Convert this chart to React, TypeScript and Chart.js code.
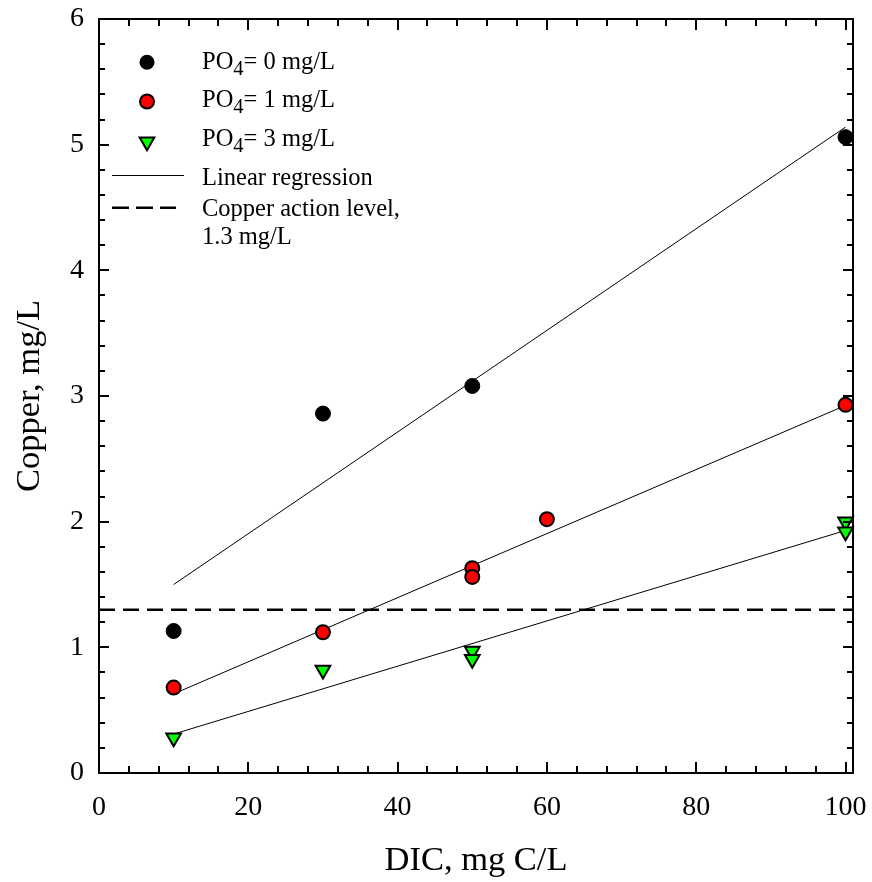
import React, { useEffect, useRef } from 'react';
import { Chart, registerables } from 'chart.js';

Chart.register(...registerables);

const FONT = '"Liberation Serif", "Times New Roman", Times, serif';

// Axis ticks
const xTickValues = [0, 20, 40, 60, 80, 100];
const yTickValues = [0, 1, 2, 3, 4, 5, 6];
const xMinorStep = 4;
const yMinorStep = 0.2;
const xMin = 0;
const xMax = 101;
const yMin = 0;
const yMax = 6;

// PO4 = 0 mg/L
const dic0 = [10, 30, 50, 100];
const cu0 = [1.13, 2.86, 3.08, 5.06];
// PO4 = 1 mg/L
const dic1 = [10, 30, 50, 50, 60, 100];
const cu1 = [0.68, 1.12, 1.63, 1.56, 2.02, 2.93];
// PO4 = 3 mg/L
const dic3 = [10, 30, 50, 50, 100, 100];
const cu3 = [0.28, 0.82, 0.97, 0.905, 2.0, 1.92];

// Linear regressions (endpoints)
const regX = [10, 100];
const reg0 = [1.5, 5.14];
const reg1 = [0.63, 2.925];
const reg3 = [0.31, 1.93];

// Copper action level
const actionLevel = 1.3;

const legendLabels = ['= 0 mg/L', '= 1 mg/L', '= 3 mg/L', 'Linear regression', 'Copper action level,', '1.3 mg/L'];

const pts = (xs: number[], ys: number[]) => xs.map((x, i) => ({ x, y: ys[i] }));

const framePlugin = {
  id: 'frameTicks',
  afterDraw(chart: any) {
    const { ctx, chartArea } = chart;
    const { left, right, top, bottom } = chartArea;
    const xs = chart.scales.x;
    const ys = chart.scales.y;
    ctx.save();
    ctx.strokeStyle = '#000';
    ctx.lineWidth = 2;
    ctx.lineCap = 'butt';
    // ticks
    ctx.beginPath();
    const nx = Math.round((xTickValues[xTickValues.length - 1] - xMin) / xMinorStep);
    for (let i = 0; i <= nx; i++) {
      const v = xMin + i * xMinorStep;
      const major = xTickValues.some((t) => Math.abs(t - v) < 1e-6);
      const len = major ? 11 : 7;
      const px = Math.round(xs.getPixelForValue(v));
      ctx.moveTo(px, bottom);
      ctx.lineTo(px, bottom - len);
      ctx.moveTo(px, top);
      ctx.lineTo(px, top + len);
    }
    const ny = Math.round((yMax - yMin) / yMinorStep);
    for (let i = 0; i <= ny; i++) {
      const v = yMin + i * yMinorStep;
      const major = yTickValues.some((t) => Math.abs(t - v) < 1e-6);
      const len = major ? 10 : 6;
      const py = Math.round(ys.getPixelForValue(v));
      ctx.moveTo(left, py);
      ctx.lineTo(left + len, py);
      ctx.moveTo(right, py);
      ctx.lineTo(right - len, py);
    }
    ctx.stroke();
    // frame
    ctx.beginPath();
    ctx.rect(left, top, right - left, bottom - top);
    ctx.stroke();
    ctx.restore();

    // Legend
    ctx.save();
    const mx = 147;
    const tx = 202;
    const big = '24.5px ' + FONT;
    const small = '20.5px ' + FONT;
    ctx.fillStyle = '#000';
    ctx.textBaseline = 'alphabetic';
    ctx.textAlign = 'left';
    const rows = [68.5, 107, 145.5];
    // markers
    ctx.lineWidth = 2;
    ctx.strokeStyle = '#000';
    ctx.beginPath();
    ctx.arc(mx, 62.3, 7.5, 0, Math.PI * 2);
    ctx.fillStyle = '#000';
    ctx.fill();
    ctx.beginPath();
    ctx.arc(mx, 101.5, 7, 0, Math.PI * 2);
    ctx.fillStyle = '#ff0000';
    ctx.fill();
    ctx.stroke();
    const tr = 8.5;
    const cy = 141.7;
    ctx.beginPath();
    ctx.moveTo(mx, cy + tr);
    ctx.lineTo(mx + Math.sin((2 * Math.PI) / 3 + Math.PI) * tr, cy - Math.cos((2 * Math.PI) / 3 + Math.PI) * tr);
    ctx.lineTo(mx + Math.sin((4 * Math.PI) / 3 + Math.PI) * tr, cy - Math.cos((4 * Math.PI) / 3 + Math.PI) * tr);
    ctx.closePath();
    ctx.fillStyle = '#00ff00';
    ctx.fill();
    ctx.stroke();
    // texts
    ctx.fillStyle = '#000';
    for (let i = 0; i < 3; i++) {
      ctx.font = big;
      ctx.fillText('PO', tx, rows[i]);
      const w1 = ctx.measureText('PO').width;
      ctx.font = small;
      ctx.fillText('4', tx + w1, rows[i] + 6);
      const w2 = ctx.measureText('4').width;
      ctx.font = big;
      ctx.fillText(legendLabels[i], tx + w1 + w2, rows[i]);
    }
    ctx.font = big;
    ctx.fillText(legendLabels[3], tx, 185);
    ctx.fillText(legendLabels[4], tx, 216);
    ctx.fillText(legendLabels[5], tx, 244);
    // line samples
    ctx.lineWidth = 1;
    ctx.beginPath();
    ctx.moveTo(112, 175.5);
    ctx.lineTo(184, 175.5);
    ctx.stroke();
    ctx.lineWidth = 2.5;
    ctx.setLineDash([17, 7]);
    ctx.beginPath();
    ctx.moveTo(112, 207.7);
    ctx.lineTo(176, 207.7);
    ctx.stroke();
    ctx.restore();
  },
};

export default function App() {
  const ref = useRef<HTMLCanvasElement | null>(null);
  useEffect(() => {
    if (!ref.current) return;
    const chart = new Chart(ref.current, {
      type: 'scatter',
      data: {
        datasets: [
          {
            label: 'PO4 = 0 mg/L',
            data: pts(dic0, cu0),
            pointStyle: 'circle',
            pointRadius: 7.5,
            pointBackgroundColor: '#000',
            pointBorderColor: '#000',
            pointBorderWidth: 1,
            showLine: false,
            clip: false,
          } as any,
          {
            label: 'PO4 = 1 mg/L',
            data: pts(dic1, cu1),
            pointStyle: 'circle',
            pointRadius: 7,
            pointBackgroundColor: '#ff0000',
            pointBorderColor: '#000',
            pointBorderWidth: 2,
            showLine: false,
            clip: false,
          },
          {
            label: 'PO4 = 3 mg/L',
            data: pts(dic3, cu3),
            pointStyle: 'triangle',
            rotation: 180,
            pointRadius: 8.5,
            pointBackgroundColor: '#00ff00',
            pointBorderColor: '#000',
            pointBorderWidth: 2,
            showLine: false,
            clip: false,
          },
          {
            label: 'reg0',
            data: pts(regX, reg0),
            showLine: true,
            borderColor: '#000',
            borderWidth: 1,
            pointRadius: 0,
          },
          {
            label: 'reg1',
            data: pts(regX, reg1),
            showLine: true,
            borderColor: '#000',
            borderWidth: 1,
            pointRadius: 0,
          },
          {
            label: 'reg3',
            data: pts(regX, reg3),
            showLine: true,
            borderColor: '#000',
            borderWidth: 1,
            pointRadius: 0,
          },
          {
            label: 'action',
            data: [
              { x: xMin, y: actionLevel },
              { x: xMax, y: actionLevel },
            ],
            showLine: true,
            borderColor: '#000',
            borderWidth: 2.5,
            borderDash: [16, 8],
            pointRadius: 0,
          },
        ],
      },
      options: {
        responsive: false,
        animation: false,
        devicePixelRatio: 1,
        layout: { padding: { top: 19, right: 19, left: 0, bottom: 0 } },
        plugins: {
          legend: { display: false },
          tooltip: { enabled: false },
        },
        scales: {
          x: {
            type: 'linear',
            min: xMin,
            max: xMax,
            grid: { display: false, drawTicks: false },
            border: { display: false },
            afterBuildTicks: (s: any) => {
              s.ticks = xTickValues.map((v) => ({ value: v }));
            },
            afterFit: (s: any) => {
              s.height = 109;
              s.paddingLeft = 0;
              s.paddingRight = 0;
              s.paddingTop = 0;
              s.paddingBottom = 0;
            },
            ticks: {
              padding: 18,
              color: '#000',
              font: { family: FONT, size: 28 },
              maxRotation: 0,
              autoSkip: false,
            },
            title: {
              display: true,
              text: 'DIC, mg C/L',
              color: '#000',
              font: { family: FONT, size: 34.5 },
              padding: { top: 0, bottom: 0 },
            },
          },
          y: {
            type: 'linear',
            min: yMin,
            max: yMax,
            grid: { display: false, drawTicks: false },
            border: { display: false },
            afterBuildTicks: (s: any) => {
              s.ticks = yTickValues.map((v) => ({ value: v }));
            },
            afterFit: (s: any) => {
              s.width = 99;
              s.paddingLeft = 0;
              s.paddingRight = 0;
              s.paddingTop = 0;
              s.paddingBottom = 0;
            },
            ticks: {
              padding: 15,
              color: '#000',
              font: { family: FONT, size: 28 },
              autoSkip: false,
            },
            title: {
              display: true,
              text: 'Copper, mg/L',
              color: '#000',
              font: { family: FONT, size: 34.5 },
              padding: { top: 9, bottom: 0 },
            },
          },
        },
      } as any,
      plugins: [framePlugin],
    });
    return () => chart.destroy();
  }, []);
  return (
    <div style={{ position: 'fixed', left: 0, top: 0, width: 872, height: 882, background: '#fff' }}>
      <canvas ref={ref} width={872} height={882} style={{ display: 'block', width: 872, height: 882 }} />
    </div>
  );
}
